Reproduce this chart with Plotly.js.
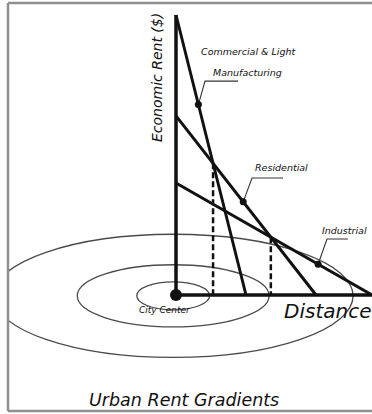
<!DOCTYPE html>
<html>
<head>
<meta charset="utf-8">
<script src="https://cdn.plot.ly/plotly-3.0.1.min.js"></script>
<style>
  html, body { margin: 0; padding: 0; background: #fff; }
  #chart { width: 372px; height: 414px; }
</style>
</head>
<body>
<div id="chart"></div>
<script>
// bid-rent gradients: rent paid at the city center and the distance where it falls to zero
const zones = ["Commercial & Light Manufacturing", "Residential", "Industrial"];
const rentAtCenter = [100, 64, 40];
const reachDistance = [10, 20, 28];
// distance at which each gradient carries its label dot
const labelDistance = [3.2, 9.6, 20.3];
// rings of land use around the center (seen in perspective)
const ringRadiusX = [5.2, 13.7, 25.7];
const ringRadiusY = [5, 11.1, 22];

const ink = "#111";
const font = "DejaVu Sans, Liberation Sans, sans-serif";

function rentAt(i, d) {
    return rentAtCenter[i] * (1 - d / reachDistance[i]);
}

// distance where two gradients cross
function crossing(i, j) {
    const si = rentAtCenter[i] / reachDistance[i];
    const sj = rentAtCenter[j] / reachDistance[j];
    return (rentAtCenter[i] - rentAtCenter[j]) / (si - sj);
}

let traces = [];

// axes
traces.push({
    x: [0, 0, reachDistance[2]],
    y: [rentAtCenter[0], 0, 0],
    mode: "lines",
    line: {color: ink, width: 3.5},
    hoverinfo: "skip"
});

// dashed drops from the crossings
[[0, 1], [1, 2]].forEach(function (pair) {
    const d = crossing(pair[0], pair[1]);
    traces.push({
        x: [d, d],
        y: [rentAt(pair[0], d), 0],
        mode: "lines",
        line: {color: ink, width: 2.5, dash: "6px,3px"},
        hoverinfo: "skip"
    });
});

// the gradients
zones.forEach(function (name, i) {
    traces.push({
        x: [0, reachDistance[i]],
        y: [rentAtCenter[i], 0],
        mode: "lines",
        name: name,
        line: {color: ink, width: 3},
        hoverinfo: "skip"
    });
});

// leader shelves and lines to the label dots
const shelves = [
    {x0: 4.14, x1: 8.86, y: 76.4},
    {x0: 10.86, x1: 15.29, y: 41.8},
    {x0: 21.57, x1: 24.57, y: 20}
];
shelves.forEach(function (s, i) {
    const d = labelDistance[i];
    traces.push({
        x: [d, s.x0, s.x1],
        y: [rentAt(i, d), s.y, s.y],
        mode: "lines",
        line: {color: "#333", width: 1.1},
        hoverinfo: "skip"
    });
});

// label dots
traces.push({
    x: labelDistance,
    y: labelDistance.map(function (d, i) { return rentAt(i, d); }),
    mode: "markers",
    marker: {color: ink, size: 7},
    hoverinfo: "skip"
});

// city center
traces.push({
    x: [0],
    y: [0],
    mode: "markers",
    marker: {color: ink, size: 12},
    hoverinfo: "skip"
});

let shapes = ringRadiusX.map(function (rx, i) {
    return {
        type: "circle",
        xref: "x", yref: "y",
        x0: -0.4 - rx, x1: -0.4 + rx,
        y0: -0.3 - ringRadiusY[i], y1: -0.3 + ringRadiusY[i],
        line: {color: "#4a4a4a", width: 1.3},
        layer: "below"
    };
});

// picture frame
const frame = {color: "#8f8f8f", width: 2.5};
shapes.push({type: "line", xref: "paper", yref: "paper", x0: 0, x1: 1, y0: 1, y1: 1, line: frame});
shapes.push({type: "line", xref: "paper", yref: "paper", x0: 0, x1: 1, y0: 0, y1: 0, line: frame});
shapes.push({type: "line", xref: "paper", yref: "paper", x0: 0, x1: 0, y0: 0, y1: 1, line: frame});

function label(text, x, y, size, extra) {
    return Object.assign({
        text: "<i>" + text + "</i>",
        x: x, y: y,
        xref: "x", yref: "y",
        showarrow: false,
        font: {family: font, size: size, color: ink}
    }, extra || {});
}

const annotations = [
    label("Commercial &amp; Light", 10.3, 86.8, 9.5),
    label("Manufacturing", 10.2, 79.3, 9.5),
    label("Residential", 15.14, 45.4, 9.5),
    label("Industrial", 24.14, 23.2, 9.5),
    label("City Center", -1.57, -5.36, 9),
    label("Distance", 21.7, -5.7, 20),
    label("Economic Rent ($)", -2.71, 77.5, 14, {textangle: -90}),
    label("Urban Rent Gradients", 1.14, -37.5, 17.5)
];

const layout = {
    width: 372,
    height: 414,
    margin: {l: 8, r: 0, t: 3, b: 3},
    paper_bgcolor: "#fff",
    plot_bgcolor: "#fff",
    showlegend: false,
    xaxis: {range: [-24, 28], visible: false, fixedrange: true},
    yaxis: {range: [-41.43, 104.29], visible: false, fixedrange: true},
    shapes: shapes,
    annotations: annotations
};

Plotly.newPlot("chart", traces, layout, {displayModeBar: false, staticPlot: true});
</script>
</body>
</html>
